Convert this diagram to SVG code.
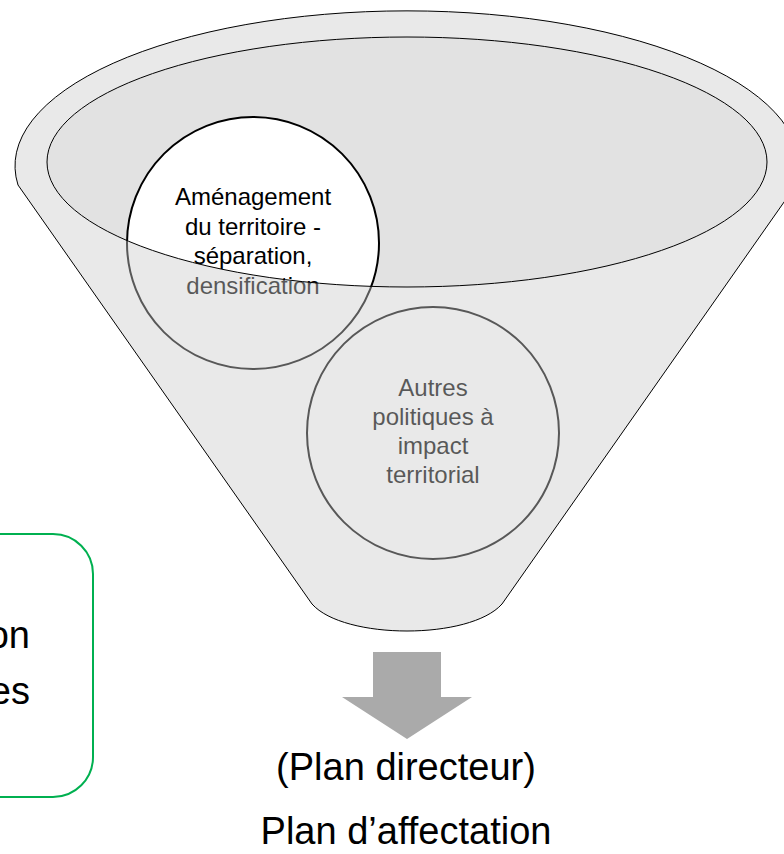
<svg xmlns="http://www.w3.org/2000/svg" width="784" height="854" viewBox="0 0 784 854">
  <style>
    .txt { font-family: "Liberation Sans", Arial, sans-serif; fill: #000; text-anchor: middle; }
    .small { font-size: 24px; }
    .big { font-size: 38px; }
    .bubble { fill: #FFFFFF; stroke: #000; stroke-width: 2; }
  </style>

  <!-- inside of the funnel mouth -->
  <ellipse id="funnel-mouth" cx="407" cy="162" rx="360" ry="125" fill="#E2E2E2"/>

  <g id="node-amenagement">
    <circle class="bubble" cx="253" cy="243" r="126"/>
    <text class="txt small" x="253" y="205">Aménagement</text>
    <text class="txt small" x="253" y="235">du territoire -</text>
    <text class="txt small" x="253" y="264">séparation,</text>
    <text class="txt small" x="253" y="294">densification</text>
  </g>

  <g id="node-autres">
    <circle class="bubble" cx="433" cy="433" r="126"/>
    <text class="txt small" x="433" y="396">Autres</text>
    <text class="txt small" x="433" y="425">politiques à</text>
    <text class="txt small" x="433" y="454">impact</text>
    <text class="txt small" x="433" y="483">territorial</text>
  </g>

  <!-- translucent funnel wall, with the mouth cut out -->
  <path id="funnel-wall" fill="#CCCCCC" fill-opacity="0.43" fill-rule="evenodd" stroke="#000" stroke-width="1"
        d="M18,185 A392,155 0 1 1 796,185 L502,604 C470,640 344,640 312,604 Z
           M47,162 A360,125 0 1 0 767,162 A360,125 0 1 0 47,162 Z"/>

  <g id="connectors">
    <path d="M373,652 H441 V697 H472 L407,739 L342,697 H373 Z" fill="#AAAAAA"/>
  </g>

  <g id="node-plan">
    <text class="txt big" x="406" y="780">(Plan directeur)</text>
    <text class="txt big" x="406" y="844">Plan d’affectation</text>
  </g>

  <g id="node-side">
    <rect x="-240" y="534" width="333" height="263" rx="40" ry="40" fill="#FFFFFF" stroke="#00B050" stroke-width="2"/>
    <text class="txt big" x="30" y="648" style="text-anchor:end">on</text>
    <text class="txt big" x="30" y="704" style="text-anchor:end">es</text>
  </g>
</svg>
